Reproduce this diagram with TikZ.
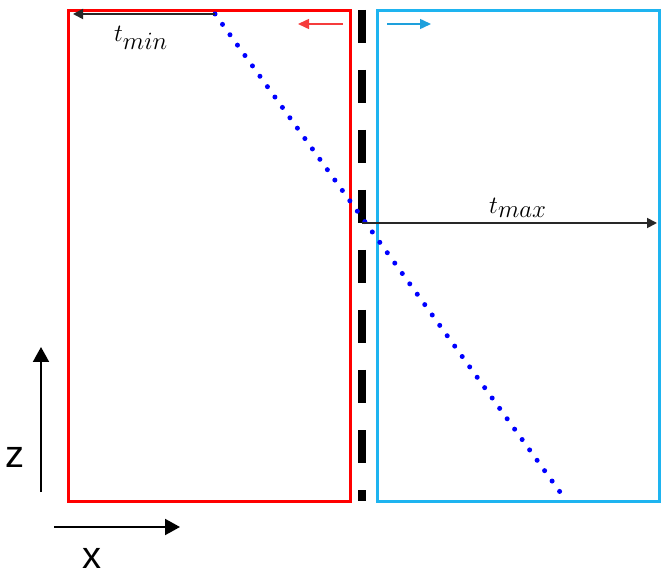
\documentclass[tikz,border=0pt]{standalone}
\usepackage{fontspec}
\newfontfamily\axisfont{Liberation Sans}
\usetikzlibrary{arrows.meta}
\definecolor{redbox}{RGB}{255,0,0}
\definecolor{bluebox}{RGB}{30,180,240}
\definecolor{bluearrow}{RGB}{30,160,220}
\definecolor{redarrow}{RGB}{245,60,60}
\definecolor{dotblue}{RGB}{0,0,255}
\definecolor{tgray}{RGB}{40,40,40}
\tikzset{
  boxshape/.style={draw, line width=3pt, inner sep=0pt, outer sep=0pt, minimum width=282pt, minimum height=490pt},
  splitline/.style={line width=8pt, dash pattern=on 33pt off 27pt},
  rayline/.style={dotblue, line width=5pt, line cap=round, dash pattern=on 0pt off 12.8pt},
  tarrow/.style={tgray, line width=1.8pt, -{Triangle[length=10pt,width=10pt]}},
  smallarrow/.style={line width=1.5pt, -{Triangle[length=11pt,width=10pt]}},
  axisarrow/.style={black, line width=2pt, -{Triangle[length=15pt,width=16pt]}},
  tlabel/.style={inner sep=0pt, anchor=base west, font=\fontsize{34}{38}\selectfont},
  axislabel/.style={inner sep=0pt, font=\axisfont\fontsize{38}{42}\selectfont}
}
\begin{document}
\begin{tikzpicture}[x=1pt,y=-1pt]
\useasboundingbox (0,0) rectangle (667,577);
\node[boxshape, redbox] (leftbox) at (209,256) {};
\node[boxshape, bluebox] (rightbox) at (518,256) {};
\coordinate (splittop) at (362,10);
\coordinate (splitbot) at (362,501);
\draw[splitline] (splittop) -- (splitbot);
\coordinate (raystart) at (215,14);
\coordinate (rayend) at (560,492);
\draw[rayline] (raystart) -- (rayend);
\coordinate (tminend) at (73,14);
\draw[tarrow] (raystart) -- (tminend);
\coordinate (tmaxstart) at (362,223);
\coordinate (tmaxend) at (657,223);
\draw[tarrow] (tmaxstart) -- (tmaxend);
\node[tlabel] (tmin) at (114,42) {$t_{min}$};
\node[tlabel] (tmax) at (489,214) {$t_{max}$};
\coordinate (redA) at (343,24);
\coordinate (redB) at (298,24);
\draw[smallarrow, redarrow] (redA) -- (redB);
\coordinate (blueA) at (387,24);
\coordinate (blueB) at (431,24);
\draw[smallarrow, bluearrow] (blueA) -- (blueB);
\coordinate (zfoot) at (41,492);
\coordinate (ztip) at (41,347);
\draw[axisarrow] (zfoot) -- (ztip);
\coordinate (xfoot) at (54,527);
\coordinate (xtip) at (180,527);
\draw[axisarrow] (xfoot) -- (xtip);
\node[axislabel] (zlab) at (15,457) {z};
\node[axislabel] (xlab) at (92,558) {x};
\end{tikzpicture}
\end{document}
